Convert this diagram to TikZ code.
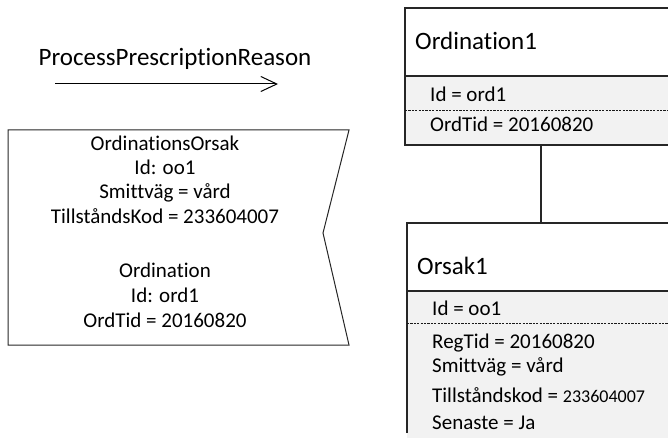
\documentclass[tikz,border=0pt]{standalone}
\usepackage{fontspec}
\setmainfont{Carlito}[Ligatures={NoCommon,NoDiscretionary}]
\usetikzlibrary{arrows.meta}
\begin{document}
\begin{tikzpicture}[x=1pt,y=-1pt,
  boxline/.style={line width=1.2pt, draw=black!85},
  titlepart/.style={boxline, fill=white},
  attrpart/.style={boxline, fill=black!5},
  attrsep/.style={line width=0.9pt, draw=black!90, dash pattern=on 2.2pt off 1.2pt},
  classname/.style={anchor=base west, inner sep=0pt, font=\fontsize{25}{30}\selectfont},
  attrtext/.style={anchor=base west, inner sep=0pt, font=\fontsize{21}{25}\selectfont},
  msgtext/.style={anchor=base, inner sep=0pt, font=\fontsize{21}{25}\selectfont},
  msgname/.style={anchor=base, inner sep=0pt, font=\fontsize{25}{30}\selectfont}]
\clip (0,0) rectangle (668,438);

% message arrow with its name
\node[msgname] (msglabel) at (175,66) {ProcessPrescriptionReason};
\coordinate (msgstart) at (55,84);
\coordinate (msgend) at (278,84);
\draw[line width=1pt, -{Straight Barb[length=16pt, width=15pt, line width=1pt]}] (msgstart) -- (msgend);

% message content (notched box)
\draw[line width=1pt, draw=black!85] (8,130) -- (349,130) -- (323,233) -- (349,345) -- (8,345) -- cycle;
\node[msgtext] (m1) at (165,150.5) {OrdinationsOrsak};
\node[msgtext] (m2) at (165,175) {Id: oo1};
\node[msgtext] (m3) at (165,199) {Smittväg = vård};
\node[msgtext] (m4) at (165,223) {TillståndsKod = 233604007};
\node[msgtext] (m5) at (165,277) {Ordination};
\node[msgtext] (m6) at (165,302) {Id: ord1};
\node[msgtext] (m7) at (165,327) {OrdTid = 20160820};

% object Ordination1
\draw[titlepart] (405,8) rectangle (700,76);
\draw[attrpart] (405,76) rectangle (700,145);
\draw[attrsep] (405,110) -- (700,110);
\node[classname] (ordname) at (415,50) {Ordination1};
\node[attrtext] (ordid) at (430,101.7) {Id = ord1};
\node[attrtext] (ordtid) at (430,132) {OrdTid = 20160820};

% object Orsak1
\draw[titlepart] (407,223) rectangle (700,291);
\fill[black!5] (407,291) rectangle (700,440);
\draw[boxline] (407,433) -- (407,291) -- (700,291);
\draw[attrsep] (407,323) -- (700,323);
\node[classname] (orsname) at (417,274) {Orsak1};
\node[attrtext] (orsid) at (432,315) {Id = oo1};
\node[attrtext] (orsreg) at (432,348) {RegTid = 20160820};
\node[attrtext] (orssmitt) at (432,372.7) {Smittväg = vård};
\node[attrtext] (orskod) at (432,402.7) {Tillståndskod = {\fontsize{18}{20}\selectfont 233604007}};
\node[attrtext] (orssen) at (432,429) {Senaste = Ja};

% link between the two objects
\coordinate (linktop) at (541,145);
\coordinate (linkbottom) at (541,223);
\draw[boxline] (linktop) -- (linkbottom);
\end{tikzpicture}
\end{document}
